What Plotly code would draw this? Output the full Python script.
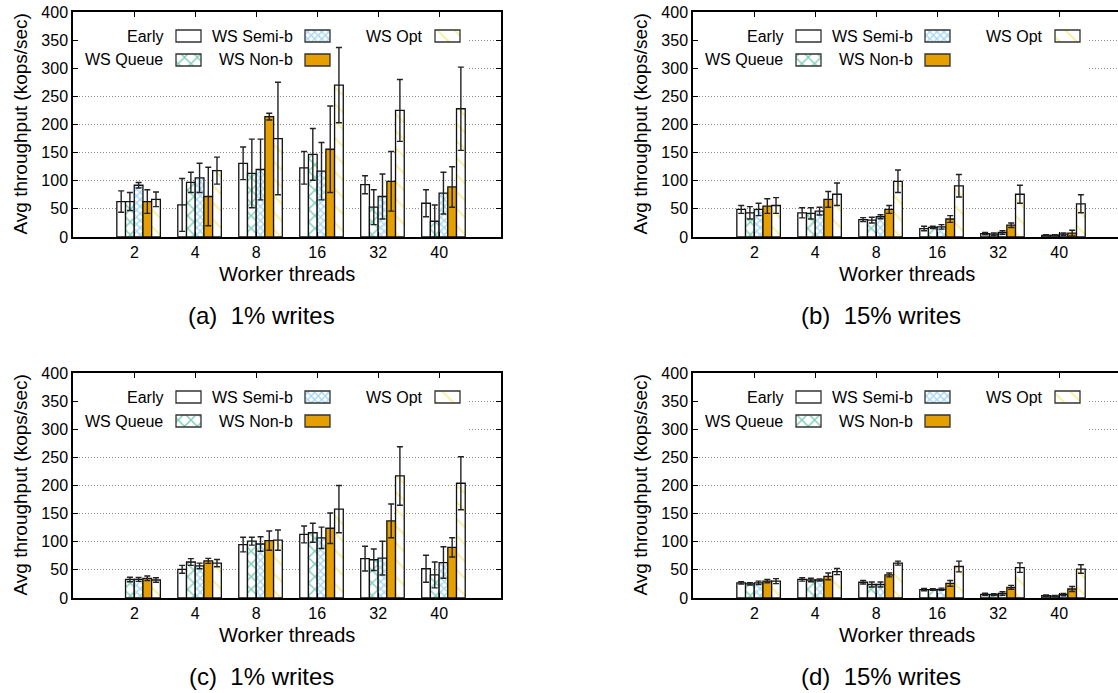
import plotly.graph_objects as go

# ---------------- data ----------------
categories = ["2", "4", "8", "16", "32", "40"]
series_names = ["Early", "WS Queue", "WS Semi-b", "WS Non-b", "WS Opt"]

# (a) 1% writes
a_early = [63, 57, 131, 123, 93, 60]
a_early_err = [19, 47, 29, 29, 16, 24]
a_queue = [63, 97, 113, 147, 53, 28]
a_queue_err = [16, 18, 61, 46, 31, 29]
a_semi = [92, 105, 120, 117, 72, 78]
a_semi_err = [5, 26, 54, 51, 40, 37]
a_nonb = [63, 72, 214, 156, 99, 89]
a_nonb_err = [21, 52, 6, 77, 53, 36]
a_opt = [67, 118, 175, 270, 225, 228]
a_opt_err = [13, 24, 100, 67, 55, 74]

# (b) 15% writes
b_early = [49, 43, 31, 15, 6, 3]
b_early_err = [7, 9, 3.5, 4, 2, 1]
b_queue = [43, 42, 30, 17, 5, 3]
b_queue_err = [11, 10, 5, 2, 2, 1]
b_semi = [49, 46, 36, 18, 8, 5]
b_semi_err = [11, 7, 3.5, 4, 3, 2]
b_nonb = [55, 67, 49, 32, 21, 7]
b_nonb_err = [13, 14, 7, 6, 4, 5]
b_opt = [56, 76, 99, 91, 76, 59]
b_opt_err = [14, 20, 20, 20, 16, 16]

# (c) 1% writes
c_early = [None, 51, 95, 113, 70, 52]
c_early_err = [0, 7, 13, 15, 22, 24]
c_queue = [33, 64, 101, 116, 68, 41]
c_queue_err = [4, 6, 7, 17, 19, 23]
c_semi = [33, 57, 96, 107, 71, 63]
c_semi_err = [3.5, 5, 13, 19, 30, 28]
c_nonb = [35, 66, 102, 124, 137, 90]
c_nonb_err = [4, 4.5, 17, 27, 30, 17]
c_opt = [32, 62, 103, 158, 217, 204]
c_opt_err = [4, 6.5, 18, 42, 52, 47]

# (d) 15% writes
d_early = [27, 33, 28, 15, 6.5, 4]
d_early_err = [2, 3, 3, 2, 2, 1.5]
d_queue = [25, 32, 24, 15, 6, 3.5]
d_queue_err = [2, 3, 4.5, 1.5, 1.5, 1]
d_semi = [27, 32, 24, 15.5, 8, 6]
d_semi_err = [3, 2, 4.5, 2, 3, 2]
d_nonb = [30, 38.5, 41, 26, 19, 16]
d_nonb_err = [3, 6, 3.5, 5, 3.5, 4.5]
d_opt = [30, 47, 62, 56, 54, 51.5]
d_opt_err = [4.5, 5.5, 3.5, 9.5, 8.5, 7.5]

captions = ["(a)\u00a0 1% writes", "(b)\u00a0 15% writes", "(c)\u00a0 1% writes", "(d)\u00a0 15% writes"]

panels = [
    [(a_early, a_early_err), (a_queue, a_queue_err), (a_semi, a_semi_err), (a_nonb, a_nonb_err), (a_opt, a_opt_err)],
    [(b_early, b_early_err), (b_queue, b_queue_err), (b_semi, b_semi_err), (b_nonb, b_nonb_err), (b_opt, b_opt_err)],
    [(c_early, c_early_err), (c_queue, c_queue_err), (c_semi, c_semi_err), (c_nonb, c_nonb_err), (c_opt, c_opt_err)],
    [(d_early, d_early_err), (d_queue, d_queue_err), (d_semi, d_semi_err), (d_nonb, d_nonb_err), (d_opt, d_opt_err)],
]

# ---------------- styles ----------------
FONT = "Liberation Sans, Arial, Helvetica, sans-serif"
W, H = 1118, 693
col_px = [(73, 501), (693, 1118)]
row_px = [(12, 237), (373, 598)]
PX_PER_UNIT = 60.97
X_LO = -1.076

def marker_style(idx):
    line = dict(color="#111111", width=1.3)
    if idx == 0:
        return dict(color="white", line=line)
    if idx == 1:
        return dict(color="white", line=line,
                    pattern=dict(shape="x", fgcolor="#009E73", bgcolor="white",
                                 size=9, solidity=0.3, fillmode="overlay"))
    if idx == 2:
        return dict(color="white", line=line,
                    pattern=dict(shape="x", fgcolor="#56B4E9", bgcolor="white",
                                 size=5, solidity=0.5, fillmode="overlay"))
    if idx == 3:
        return dict(color="#E69F00", line=line)
    return dict(color="white", line=line,
                pattern=dict(shape="\\", fgcolor="#EBDD2A", bgcolor="white",
                             size=12, solidity=0.14, fillmode="overlay"))

fig = go.Figure()
x_idx = list(range(len(categories)))

for k, series in enumerate(panels):
    sfx = "" if k == 0 else str(k + 1)
    for s, (vals, errs) in enumerate(series):
        fig.add_trace(go.Bar(
            x=x_idx, y=vals, name=series_names[s],
            marker=marker_style(s),
            error_y=dict(type="data", array=errs, color="#222222", thickness=1.4, width=3),
            xaxis="x" + sfx, yaxis="y" + sfx, showlegend=False,
            offsetgroup=str(s),
        ))

annotations = []
shapes = []
layout_axes = {}

for k in range(4):
    r, c = k // 2, k % 2
    sfx = "" if k == 0 else str(k + 1)
    x0, x1 = col_px[c]
    y0, y1 = row_px[r]
    layout_axes["xaxis" + sfx] = dict(
        domain=[x0 / W, x1 / W], range=[X_LO, X_LO + (x1 - x0) / PX_PER_UNIT],
        anchor="y" + sfx, tickmode="array", automargin=False,
        tickvals=[i - 0.07 for i in x_idx], ticktext=categories,
        ticks="inside", ticklen=5, tickwidth=1, tickcolor="black",
        showline=True, linecolor="black", linewidth=1.5, mirror="ticks",
        showgrid=False, zeroline=False,
        tickfont=dict(family=FONT, size=16, color="black"),
    )
    layout_axes["yaxis" + sfx] = dict(
        domain=[1 - y1 / H, 1 - y0 / H], range=[0, 400], dtick=50,
        anchor="x" + sfx, automargin=False,
        ticks="inside", ticklen=5, tickwidth=1, tickcolor="black",
        showline=True, linecolor="black", linewidth=1.5,
        mirror="ticks" if c == 0 else False,
        showgrid=True, gridcolor="#8a8a8a", gridwidth=1, griddash="1px,2px",
        zeroline=False,
        tickfont=dict(family=FONT, size=16, color="black"),
    )
    # legend background (covers gridlines)
    shapes.append(dict(type="rect", xref="x" + sfx, yref="y" + sfx,
                       x0=X_LO, x1=X_LO + 394 / PX_PER_UNIT, y0=288, y1=400,
                       fillcolor="white", line=dict(width=0), layer="between"))
    # axis titles and caption
    annotations.append(dict(text="Avg throughput (kops/sec)", textangle=-90,
                            x=(x0 - 53) / W, y=1 - (y0 + y1) / 2 / H,
                            xref="paper", yref="paper", showarrow=False,
                            xanchor="center", yanchor="middle",
                            font=dict(family=FONT, size=19, color="black")))
    annotations.append(dict(text="Worker threads",
                            x=(x0 + x1 + (3 if c == 1 else 0)) / 2 / W, y=1 - (y1 + 37) / H,
                            xref="paper", yref="paper", showarrow=False,
                            xanchor="center", yanchor="middle",
                            font=dict(family=FONT, size=20, color="black")))
    annotations.append(dict(text=captions[k],
                            x=(x0 - 8 + (x1 + (3 if c == 1 else 0))) / 2 / W - 22 / W, y=1 - (y1 + 78) / H,
                            xref="paper", yref="paper", showarrow=False,
                            xanchor="center", yanchor="middle",
                            font=dict(family=FONT, size=24, color="black")))
    # custom legend (text right-aligned, swatch to the right)
    entries = [(0, 92, 103, 24), (2, 222, 232, 24), (4, 352, 362, 24),
               (1, 92, 103, 48), (3, 222, 232, 48)]
    for s, tx, bx, yc in entries:
        annotations.append(dict(text=series_names[s], x=(x0 + tx) / W, y=1 - (y0 + yc) / H,
                                xref="paper", yref="paper", showarrow=False,
                                xanchor="right", yanchor="middle",
                                font=dict(family=FONT, size=16, color="black")))
        fig.add_trace(go.Bar(
            x=[x0 + bx], y=[12], base=[y0 + yc - 6], width=[25], offset=[0],
            marker=marker_style(s) | {"line": dict(color="#333333", width=1.3)},
            xaxis="x5", yaxis="y5", showlegend=False, hoverinfo="skip",
        ))

layout_axes["xaxis5"] = dict(domain=[0, 1], range=[0, W], visible=False, anchor="y5",
                             fixedrange=True, automargin=False)
layout_axes["yaxis5"] = dict(domain=[0, 1], range=[H, 0], visible=False, anchor="x5",
                             fixedrange=True, automargin=False)

fig.update_layout(
    width=W, height=H, margin=dict(l=0, r=0, t=0, b=0, pad=0, autoexpand=False),
    paper_bgcolor="white", plot_bgcolor="rgba(0,0,0,0)",
    barmode="group", bargap=0.286, bargroupgap=0,
    annotations=annotations, shapes=shapes,
    font=dict(family=FONT, color="black"),
    showlegend=False,
    **layout_axes,
)

fig.write_html("out.html")
